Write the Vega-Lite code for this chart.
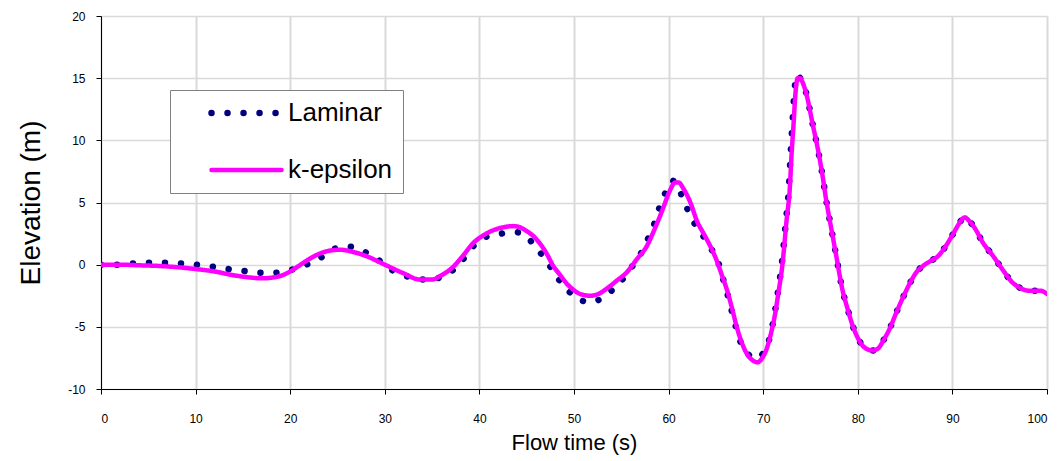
{
  "$schema": "https://vega.github.io/schema/vega-lite/v6.json",
  "width": 946,
  "height": 373,
  "autosize": "none",
  "padding": {"left": 101, "top": 16, "right": 16, "bottom": 72},
  "background": "white",
  "config": {
    "font": "Liberation Sans",
    "view": {"stroke": null},
    "axis": {
      "labelFont": "Liberation Sans",
      "titleFont": "Liberation Sans",
      "labelColor": "black",
      "titleColor": "black",
      "titleFontWeight": "normal",
      "domainColor": "black",
      "domainWidth": 1,
      "tickColor": "black",
      "tickSize": 5,
      "gridColor": "#d9d9d9"
    }
  },
  "data": {
    "values": [
      {"t": 0, "v": 0.0, "s": "Laminar"},
      {"t": 1.7, "v": 0.0, "s": "Laminar"},
      {"t": 3.4, "v": 0.1, "s": "Laminar"},
      {"t": 5.0, "v": 0.15, "s": "Laminar"},
      {"t": 6.7, "v": 0.15, "s": "Laminar"},
      {"t": 8.4, "v": 0.1, "s": "Laminar"},
      {"t": 10.1, "v": 0.0, "s": "Laminar"},
      {"t": 11.7, "v": -0.15, "s": "Laminar"},
      {"t": 13.4, "v": -0.35, "s": "Laminar"},
      {"t": 15.1, "v": -0.5, "s": "Laminar"},
      {"t": 16.7, "v": -0.65, "s": "Laminar"},
      {"t": 18.4, "v": -0.65, "s": "Laminar"},
      {"t": 20.2, "v": -0.4, "s": "Laminar"},
      {"t": 21.7, "v": 0.0, "s": "Laminar"},
      {"t": 23.2, "v": 0.55, "s": "Laminar"},
      {"t": 24.6, "v": 1.25, "s": "Laminar"},
      {"t": 26.2, "v": 1.45, "s": "Laminar"},
      {"t": 27.8, "v": 1.05, "s": "Laminar"},
      {"t": 29.3, "v": 0.4, "s": "Laminar"},
      {"t": 30.7, "v": -0.4, "s": "Laminar"},
      {"t": 32.2, "v": -0.9, "s": "Laminar"},
      {"t": 33.9, "v": -1.2, "s": "Laminar"},
      {"t": 35.5, "v": -1.1, "s": "Laminar"},
      {"t": 37.1, "v": -0.5, "s": "Laminar"},
      {"t": 38.3, "v": 0.45, "s": "Laminar"},
      {"t": 39.3, "v": 1.45, "s": "Laminar"},
      {"t": 40.6, "v": 2.2, "s": "Laminar"},
      {"t": 42.3, "v": 2.5, "s": "Laminar"},
      {"t": 44.0, "v": 2.6, "s": "Laminar"},
      {"t": 45.3, "v": 2.0, "s": "Laminar"},
      {"t": 46.4, "v": 1.0, "s": "Laminar"},
      {"t": 47.4, "v": -0.05, "s": "Laminar"},
      {"t": 48.3, "v": -1.1, "s": "Laminar"},
      {"t": 49.4, "v": -2.1, "s": "Laminar"},
      {"t": 50.7, "v": -2.85, "s": "Laminar"},
      {"t": 51.6, "v": -3.0, "s": "Laminar"},
      {"t": 52.4, "v": -2.9, "s": "Laminar"},
      {"t": 53.8, "v": -2.2, "s": "Laminar"},
      {"t": 55.0, "v": -1.3, "s": "Laminar"},
      {"t": 56.0, "v": -0.3, "s": "Laminar"},
      {"t": 57.0, "v": 0.8, "s": "Laminar"},
      {"t": 57.7, "v": 1.9, "s": "Laminar"},
      {"t": 58.4, "v": 3.1, "s": "Laminar"},
      {"t": 58.9, "v": 4.3, "s": "Laminar"},
      {"t": 59.5, "v": 5.5, "s": "Laminar"},
      {"t": 60.0, "v": 6.3, "s": "Laminar"},
      {"t": 60.4, "v": 6.75, "s": "Laminar"},
      {"t": 60.8, "v": 6.6, "s": "Laminar"},
      {"t": 61.2, "v": 5.9, "s": "Laminar"},
      {"t": 61.8, "v": 4.8, "s": "Laminar"},
      {"t": 62.6, "v": 3.5, "s": "Laminar"},
      {"t": 63.5, "v": 2.5, "s": "Laminar"},
      {"t": 64.4, "v": 1.4, "s": "Laminar"},
      {"t": 65.2, "v": 0.3, "s": "Laminar"},
      {"t": 65.7, "v": -1.0, "s": "Laminar"},
      {"t": 66.2, "v": -2.3, "s": "Laminar"},
      {"t": 66.6, "v": -3.5, "s": "Laminar"},
      {"t": 67.0, "v": -4.7, "s": "Laminar"},
      {"t": 67.5, "v": -6.0, "s": "Laminar"},
      {"t": 68.3, "v": -7.1, "s": "Laminar"},
      {"t": 68.8, "v": -7.45, "s": "Laminar"},
      {"t": 69.3, "v": -7.55, "s": "Laminar"},
      {"t": 69.8, "v": -7.3, "s": "Laminar"},
      {"t": 70.4, "v": -6.6, "s": "Laminar"},
      {"t": 70.8, "v": -5.5, "s": "Laminar"},
      {"t": 71.2, "v": -4.0, "s": "Laminar"},
      {"t": 71.6, "v": -2.0, "s": "Laminar"},
      {"t": 72.0, "v": 0.3, "s": "Laminar"},
      {"t": 72.4, "v": 3.5, "s": "Laminar"},
      {"t": 72.7, "v": 6.0, "s": "Laminar"},
      {"t": 72.9, "v": 8.9, "s": "Laminar"},
      {"t": 73.1, "v": 11.5, "s": "Laminar"},
      {"t": 73.3, "v": 13.9, "s": "Laminar"},
      {"t": 73.55, "v": 15.3, "s": "Laminar"},
      {"t": 73.9, "v": 15.0, "s": "Laminar"},
      {"t": 74.2, "v": 14.7, "s": "Laminar"},
      {"t": 74.7, "v": 13.3, "s": "Laminar"},
      {"t": 75.2, "v": 11.4, "s": "Laminar"},
      {"t": 75.7, "v": 9.6, "s": "Laminar"},
      {"t": 76.2, "v": 7.5, "s": "Laminar"},
      {"t": 76.7, "v": 5.0, "s": "Laminar"},
      {"t": 77.2, "v": 2.9, "s": "Laminar"},
      {"t": 77.7, "v": 0.8, "s": "Laminar"},
      {"t": 78.4, "v": -2.1, "s": "Laminar"},
      {"t": 78.9, "v": -3.5, "s": "Laminar"},
      {"t": 79.5, "v": -5.0, "s": "Laminar"},
      {"t": 80.0, "v": -5.9, "s": "Laminar"},
      {"t": 80.5, "v": -6.5, "s": "Laminar"},
      {"t": 81.0, "v": -6.8, "s": "Laminar"},
      {"t": 81.6, "v": -6.9, "s": "Laminar"},
      {"t": 82.2, "v": -6.7, "s": "Laminar"},
      {"t": 82.7, "v": -6.1, "s": "Laminar"},
      {"t": 83.4, "v": -5.1, "s": "Laminar"},
      {"t": 84.1, "v": -3.8, "s": "Laminar"},
      {"t": 84.8, "v": -2.6, "s": "Laminar"},
      {"t": 85.5, "v": -1.5, "s": "Laminar"},
      {"t": 86.2, "v": -0.6, "s": "Laminar"},
      {"t": 86.9, "v": -0.1, "s": "Laminar"},
      {"t": 87.7, "v": 0.3, "s": "Laminar"},
      {"t": 88.5, "v": 0.7, "s": "Laminar"},
      {"t": 89.3, "v": 1.5, "s": "Laminar"},
      {"t": 90.1, "v": 2.5, "s": "Laminar"},
      {"t": 90.7, "v": 3.3, "s": "Laminar"},
      {"t": 91.3, "v": 3.85, "s": "Laminar"},
      {"t": 91.8, "v": 3.5, "s": "Laminar"},
      {"t": 92.4, "v": 2.9, "s": "Laminar"},
      {"t": 93.2, "v": 1.8, "s": "Laminar"},
      {"t": 94.3, "v": 0.7, "s": "Laminar"},
      {"t": 95.4, "v": -0.5, "s": "Laminar"},
      {"t": 96.3, "v": -1.4, "s": "Laminar"},
      {"t": 97.0, "v": -1.8, "s": "Laminar"},
      {"t": 97.5, "v": -2.0, "s": "Laminar"},
      {"t": 98.2, "v": -2.1, "s": "Laminar"},
      {"t": 99.3, "v": -2.1, "s": "Laminar"},
      {"t": 100, "v": -2.35, "s": "Laminar"},

      {"t": 0, "v": 0.0, "s": "k-epsilon"},
      {"t": 2, "v": 0.0, "s": "k-epsilon"},
      {"t": 4, "v": -0.05, "s": "k-epsilon"},
      {"t": 6, "v": -0.1, "s": "k-epsilon"},
      {"t": 8, "v": -0.2, "s": "k-epsilon"},
      {"t": 10, "v": -0.35, "s": "k-epsilon"},
      {"t": 12, "v": -0.55, "s": "k-epsilon"},
      {"t": 14, "v": -0.85, "s": "k-epsilon"},
      {"t": 16, "v": -1.05, "s": "k-epsilon"},
      {"t": 17, "v": -1.1, "s": "k-epsilon"},
      {"t": 18, "v": -1.05, "s": "k-epsilon"},
      {"t": 19, "v": -0.9, "s": "k-epsilon"},
      {"t": 20, "v": -0.55, "s": "k-epsilon"},
      {"t": 21, "v": -0.05, "s": "k-epsilon"},
      {"t": 22, "v": 0.45, "s": "k-epsilon"},
      {"t": 23, "v": 0.85, "s": "k-epsilon"},
      {"t": 24, "v": 1.1, "s": "k-epsilon"},
      {"t": 25.3, "v": 1.2, "s": "k-epsilon"},
      {"t": 26.5, "v": 1.05, "s": "k-epsilon"},
      {"t": 28, "v": 0.7, "s": "k-epsilon"},
      {"t": 30, "v": 0.0, "s": "k-epsilon"},
      {"t": 32, "v": -0.7, "s": "k-epsilon"},
      {"t": 33.7, "v": -1.2, "s": "k-epsilon"},
      {"t": 35, "v": -1.2, "s": "k-epsilon"},
      {"t": 36, "v": -0.85, "s": "k-epsilon"},
      {"t": 37.2, "v": -0.2, "s": "k-epsilon"},
      {"t": 38.3, "v": 0.75, "s": "k-epsilon"},
      {"t": 39.3, "v": 1.7, "s": "k-epsilon"},
      {"t": 40.3, "v": 2.3, "s": "k-epsilon"},
      {"t": 41.4, "v": 2.75, "s": "k-epsilon"},
      {"t": 42.5, "v": 3.0, "s": "k-epsilon"},
      {"t": 43.6, "v": 3.1, "s": "k-epsilon"},
      {"t": 44.3, "v": 3.0, "s": "k-epsilon"},
      {"t": 45, "v": 2.7, "s": "k-epsilon"},
      {"t": 45.7, "v": 2.3, "s": "k-epsilon"},
      {"t": 46.4, "v": 1.7, "s": "k-epsilon"},
      {"t": 47.1, "v": 0.9, "s": "k-epsilon"},
      {"t": 47.8, "v": -0.1, "s": "k-epsilon"},
      {"t": 48.5, "v": -0.8, "s": "k-epsilon"},
      {"t": 49.2, "v": -1.5, "s": "k-epsilon"},
      {"t": 49.9, "v": -2.0, "s": "k-epsilon"},
      {"t": 50.8, "v": -2.4, "s": "k-epsilon"},
      {"t": 51.7, "v": -2.5, "s": "k-epsilon"},
      {"t": 52.6, "v": -2.35, "s": "k-epsilon"},
      {"t": 53.5, "v": -1.9, "s": "k-epsilon"},
      {"t": 54.5, "v": -1.3, "s": "k-epsilon"},
      {"t": 55.6, "v": -0.6, "s": "k-epsilon"},
      {"t": 56.6, "v": 0.4, "s": "k-epsilon"},
      {"t": 57.7, "v": 1.5, "s": "k-epsilon"},
      {"t": 58.6, "v": 3.0, "s": "k-epsilon"},
      {"t": 59.4, "v": 4.5, "s": "k-epsilon"},
      {"t": 60.1, "v": 5.9, "s": "k-epsilon"},
      {"t": 60.7, "v": 6.6, "s": "k-epsilon"},
      {"t": 61.1, "v": 6.6, "s": "k-epsilon"},
      {"t": 61.5, "v": 6.2, "s": "k-epsilon"},
      {"t": 62.3, "v": 5.0, "s": "k-epsilon"},
      {"t": 63.0, "v": 3.5, "s": "k-epsilon"},
      {"t": 63.7, "v": 2.5, "s": "k-epsilon"},
      {"t": 64.4, "v": 1.5, "s": "k-epsilon"},
      {"t": 65.1, "v": 0.3, "s": "k-epsilon"},
      {"t": 65.7, "v": -1.0, "s": "k-epsilon"},
      {"t": 66.2, "v": -2.1, "s": "k-epsilon"},
      {"t": 66.7, "v": -3.5, "s": "k-epsilon"},
      {"t": 67.2, "v": -5.0, "s": "k-epsilon"},
      {"t": 67.7, "v": -6.2, "s": "k-epsilon"},
      {"t": 68.3, "v": -7.2, "s": "k-epsilon"},
      {"t": 68.9, "v": -7.7, "s": "k-epsilon"},
      {"t": 69.4, "v": -7.85, "s": "k-epsilon"},
      {"t": 69.9, "v": -7.5, "s": "k-epsilon"},
      {"t": 70.4, "v": -6.7, "s": "k-epsilon"},
      {"t": 70.8, "v": -5.6, "s": "k-epsilon"},
      {"t": 71.2, "v": -4.2, "s": "k-epsilon"},
      {"t": 71.6, "v": -2.3, "s": "k-epsilon"},
      {"t": 72.0, "v": -0.2, "s": "k-epsilon"},
      {"t": 72.5, "v": 3.8, "s": "k-epsilon"},
      {"t": 72.8, "v": 6.0, "s": "k-epsilon"},
      {"t": 73.0, "v": 8.9, "s": "k-epsilon"},
      {"t": 73.2, "v": 11.2, "s": "k-epsilon"},
      {"t": 73.4, "v": 13.7, "s": "k-epsilon"},
      {"t": 73.65, "v": 15.0, "s": "k-epsilon"},
      {"t": 73.9, "v": 15.0, "s": "k-epsilon"},
      {"t": 74.2, "v": 14.6, "s": "k-epsilon"},
      {"t": 74.7, "v": 13.3, "s": "k-epsilon"},
      {"t": 75.2, "v": 11.4, "s": "k-epsilon"},
      {"t": 75.7, "v": 9.6, "s": "k-epsilon"},
      {"t": 76.2, "v": 7.5, "s": "k-epsilon"},
      {"t": 76.7, "v": 5.0, "s": "k-epsilon"},
      {"t": 77.2, "v": 2.9, "s": "k-epsilon"},
      {"t": 77.7, "v": 0.8, "s": "k-epsilon"},
      {"t": 78.4, "v": -2.1, "s": "k-epsilon"},
      {"t": 78.9, "v": -3.5, "s": "k-epsilon"},
      {"t": 79.5, "v": -5.0, "s": "k-epsilon"},
      {"t": 80.0, "v": -5.9, "s": "k-epsilon"},
      {"t": 80.5, "v": -6.5, "s": "k-epsilon"},
      {"t": 81.0, "v": -6.8, "s": "k-epsilon"},
      {"t": 81.6, "v": -6.9, "s": "k-epsilon"},
      {"t": 82.2, "v": -6.7, "s": "k-epsilon"},
      {"t": 82.7, "v": -6.1, "s": "k-epsilon"},
      {"t": 83.4, "v": -5.1, "s": "k-epsilon"},
      {"t": 84.1, "v": -3.8, "s": "k-epsilon"},
      {"t": 84.8, "v": -2.6, "s": "k-epsilon"},
      {"t": 85.5, "v": -1.5, "s": "k-epsilon"},
      {"t": 86.2, "v": -0.6, "s": "k-epsilon"},
      {"t": 86.9, "v": -0.1, "s": "k-epsilon"},
      {"t": 87.7, "v": 0.3, "s": "k-epsilon"},
      {"t": 88.5, "v": 0.7, "s": "k-epsilon"},
      {"t": 89.3, "v": 1.5, "s": "k-epsilon"},
      {"t": 90.1, "v": 2.5, "s": "k-epsilon"},
      {"t": 90.7, "v": 3.3, "s": "k-epsilon"},
      {"t": 91.3, "v": 3.8, "s": "k-epsilon"},
      {"t": 91.8, "v": 3.5, "s": "k-epsilon"},
      {"t": 92.4, "v": 2.9, "s": "k-epsilon"},
      {"t": 93.2, "v": 1.8, "s": "k-epsilon"},
      {"t": 94.3, "v": 0.7, "s": "k-epsilon"},
      {"t": 95.4, "v": -0.5, "s": "k-epsilon"},
      {"t": 96.3, "v": -1.4, "s": "k-epsilon"},
      {"t": 97.0, "v": -1.8, "s": "k-epsilon"},
      {"t": 97.5, "v": -2.0, "s": "k-epsilon"},
      {"t": 98.2, "v": -2.1, "s": "k-epsilon"},
      {"t": 99.3, "v": -2.1, "s": "k-epsilon"},
      {"t": 100, "v": -2.35, "s": "k-epsilon"}
    ]
  },
  "mark": {"type": "line", "interpolate": "monotone", "strokeCap": "round", "strokeJoin": "round", "clip": true},
  "encoding": {
    "x": {
      "field": "t",
      "type": "quantitative",
      "scale": {"domain": [0, 100], "nice": false},
      "axis": {
        "title": "Flow time (s)",
        "values": [0, 10, 20, 30, 40, 50, 60, 70, 80, 90, 100],
        "labelExpr": "datum.value + ''",
        "labelFontSize": 12,
        "labelPadding": 19,
        "titleFontSize": 22,
        "titlePadding": 8,
        "gridWidth": 2
      }
    },
    "y": {
      "field": "v",
      "type": "quantitative",
      "scale": {"domain": [-10, 20], "nice": false, "zero": false},
      "axis": {
        "title": "Elevation (m)",
        "values": [-10, -5, 0, 5, 10, 15, 20],
        "labelExpr": "datum.value + ''",
        "labelFontSize": 12,
        "labelPadding": 11,
        "titleFontSize": 28,
        "titlePadding": 22,
        "gridWidth": 1.5
      }
    },
    "color": {
      "field": "s",
      "type": "nominal",
      "scale": {"domain": ["Laminar", "k-epsilon"], "range": ["#000080", "#ff00ff"]},
      "legend": {
        "title": null,
        "orient": "none",
        "legendX": 69,
        "legendY": 74,
        "direction": "vertical",
        "fillColor": "white",
        "strokeColor": "#808080",
        "padding": 10,
        "symbolType": "stroke",
        "symbolSize": 4900,
        "symbolOffset": 28,
        "clipHeight": 26,
        "labelOffset": 3,
        "labelFontSize": 26,
        "labelFont": "Liberation Sans",
        "labelColor": "black",
        "rowPadding": 31,
        "labelLimit": 300,
        "encode": {"symbols": {"update": {"strokeCap": {"value": "round"}}}}
      }
    },
    "strokeDash": {
      "field": "s",
      "type": "nominal",
      "scale": {"domain": ["Laminar", "k-epsilon"], "range": [[0.01, 16], [1, 0]]},
      "legend": null
    },
    "strokeWidth": {
      "field": "s",
      "type": "nominal",
      "scale": {"type": "ordinal", "domain": ["Laminar", "k-epsilon"], "range": [6.5, 4.5]},
      "legend": null
    }
  }
}
